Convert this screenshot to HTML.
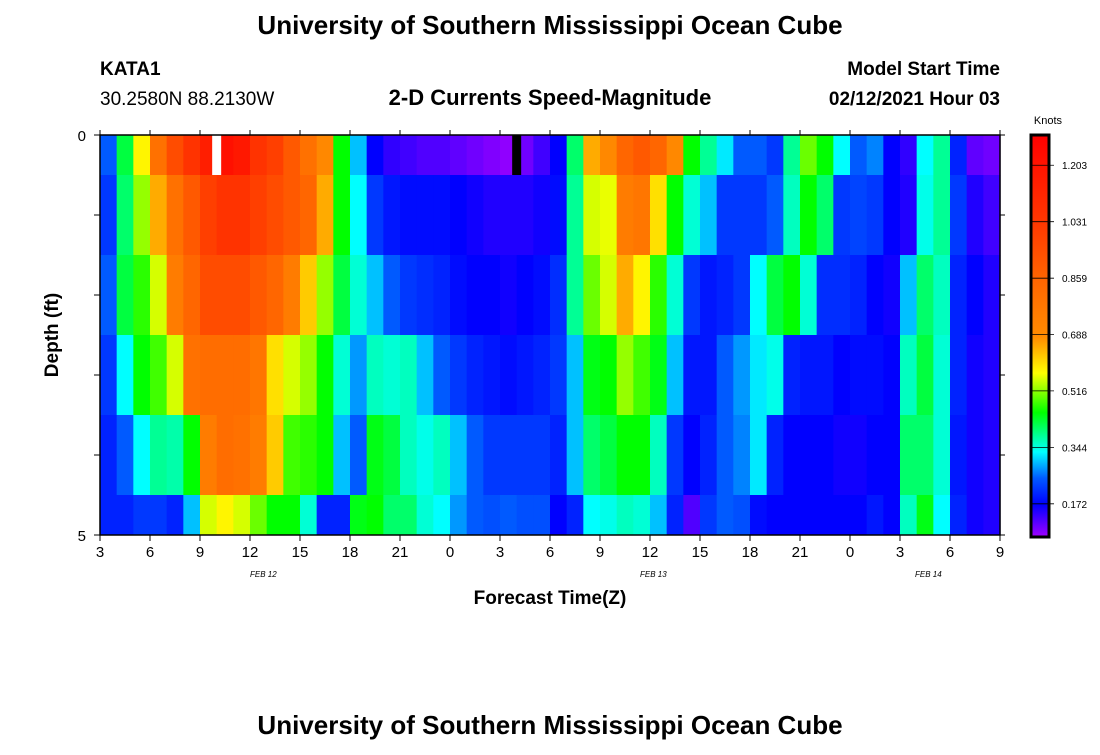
<!DOCTYPE html>
<html><head><meta charset="utf-8"><style>
body{margin:0;background:#fff;}
svg text{font-family:"Liberation Sans",sans-serif;}
</style></head><body>
<svg width="1100" height="750" viewBox="0 0 1100 750" xmlns="http://www.w3.org/2000/svg">
<rect width="1100" height="750" fill="#fff"/>
<text x="550" y="34" text-anchor="middle" font-size="26" font-weight="bold">University of Southern Mississippi Ocean Cube</text>
<text x="100" y="75" font-size="19" font-weight="bold">KATA1</text>
<text x="100" y="105" font-size="19">30.2580N 88.2130W</text>
<text x="550" y="105" text-anchor="middle" font-size="22" font-weight="bold">2-D Currents Speed-Magnitude</text>
<text x="1000" y="75" text-anchor="end" font-size="19" font-weight="bold">Model Start Time</text>
<text x="1000" y="105" text-anchor="end" font-size="19" font-weight="bold">02/12/2021 Hour 03</text>
<g id="cells"></g>
<g id="axes"></g>
<g id="cbar"></g>
<text transform="translate(58,335) rotate(-90)" text-anchor="middle" font-size="19" font-weight="bold">Depth (ft)</text>
<text x="550" y="604" text-anchor="middle" font-size="19" font-weight="bold">Forecast Time(Z)</text>
<text x="550" y="734" text-anchor="middle" font-size="26" font-weight="bold">University of Southern Mississippi Ocean Cube</text>
</svg>
<script>
const hourLabels=["3","6","9","12","15","18","21","0","3","6","9","12","15","18","21","0","3","6","9"];
const dateLabels=["FEB 12","FEB 13","FEB 14"];
const dateHours=[9.8,33.2,49.7];
const depthLabels=["0","5"];
const cbarTicks=[1.203,1.031,0.859,0.688,0.516,0.344,0.172];
const depth0=[0.25,0.42,0.58,0.8,0.95,1.05,1.15,1.22,1.18,1.05,1.0,0.9,0.8,0.7,0.45,0.3,0.17,0.14,0.13,0.12,0.12,0.11,0.1,0.09,0.08,0.1,0.13,0.17,0.4,0.65,0.7,0.85,0.9,0.85,0.7,0.45,0.38,0.32,0.25,0.25,0.22,0.38,0.5,0.45,0.33,0.25,0.27,0.17,0.14,0.33,0.38,0.2,0.11,0.1];
const depth1=[0.22,0.4,0.52,0.65,0.8,0.9,1.0,1.05,1.05,1.0,0.95,0.9,0.85,0.65,0.45,0.33,0.22,0.19,0.18,0.18,0.18,0.17,0.16,0.15,0.15,0.15,0.16,0.18,0.38,0.55,0.56,0.75,0.78,0.6,0.45,0.35,0.3,0.22,0.22,0.22,0.25,0.36,0.45,0.4,0.22,0.23,0.22,0.17,0.15,0.34,0.38,0.22,0.15,0.13];
const depth2=[0.25,0.42,0.47,0.55,0.75,0.85,0.95,0.95,0.95,0.9,0.85,0.75,0.62,0.52,0.42,0.35,0.3,0.25,0.22,0.21,0.2,0.18,0.17,0.17,0.16,0.17,0.18,0.21,0.38,0.5,0.55,0.65,0.58,0.47,0.35,0.22,0.19,0.2,0.22,0.33,0.42,0.45,0.35,0.21,0.21,0.2,0.17,0.16,0.3,0.4,0.36,0.2,0.17,0.15];
const depth3=[0.22,0.33,0.45,0.48,0.55,0.8,0.82,0.82,0.82,0.78,0.6,0.55,0.52,0.45,0.35,0.28,0.36,0.35,0.36,0.3,0.25,0.22,0.2,0.19,0.18,0.19,0.2,0.22,0.3,0.44,0.45,0.52,0.48,0.44,0.3,0.19,0.19,0.25,0.28,0.32,0.34,0.2,0.19,0.19,0.17,0.18,0.18,0.17,0.36,0.42,0.35,0.2,0.16,0.15];
const depth4=[0.2,0.25,0.33,0.38,0.37,0.45,0.75,0.82,0.8,0.75,0.62,0.48,0.47,0.45,0.3,0.25,0.44,0.42,0.36,0.34,0.36,0.3,0.25,0.22,0.22,0.22,0.22,0.2,0.3,0.4,0.42,0.45,0.45,0.36,0.22,0.17,0.2,0.25,0.27,0.32,0.2,0.17,0.17,0.17,0.16,0.16,0.17,0.17,0.4,0.4,0.35,0.19,0.16,0.15];
const depth5=[0.2,0.2,0.22,0.22,0.2,0.3,0.55,0.58,0.55,0.5,0.45,0.45,0.35,0.2,0.2,0.44,0.45,0.4,0.4,0.35,0.33,0.28,0.25,0.24,0.25,0.24,0.24,0.17,0.2,0.33,0.34,0.36,0.35,0.3,0.2,0.12,0.22,0.25,0.24,0.18,0.17,0.17,0.17,0.17,0.17,0.17,0.19,0.17,0.36,0.44,0.33,0.2,0.16,0.15];
const rows=[depth0,depth1,depth2,depth3,depth4,depth5];
const minMarkHour=7, maxMarkHour=25.0;

const NS="http://www.w3.org/2000/svg";
const X0=100,X1=1000,Y0=135,Y1=535,HOURS=54,DEPTH=5;
const xs=h=>X0+(h/HOURS)*(X1-X0);
const ys=d=>Y0+(d/DEPTH)*(Y1-Y0);
const VMIN=0.071,VMAX=1.295,CB0=135,CB1=537;
const cy=v=>CB1-(v-VMIN)/(VMAX-VMIN)*(CB1-CB0);
const stops=[[0.07,[160,0,255]],[0.17,[0,0,255]],[0.25,[0,90,255]],[0.33,[0,255,255]],[0.45,[0,255,0]],[0.57,[255,255,0]],[0.68,[255,140,0]],[0.86,[255,100,0]],[1.03,[255,55,0]],[1.2,[255,20,0]],[1.3,[255,0,0]]];
function col(v){
  if(v<=stops[0][0])return `rgb(${stops[0][1]})`;
  for(let i=1;i<stops.length;i++){if(v<=stops[i][0]){const a=stops[i-1],b=stops[i];const t=(v-a[0])/(b[0]-a[0]);const c=a[1].map((q,k)=>Math.round(q+(b[1][k]-q)*t));return `rgb(${c})`;}}
  return "rgb(255,0,0)";
}
function mk(tag,attrs,parent){const e=document.createElementNS(NS,tag);for(const k in attrs)e.setAttribute(k,attrs[k]);parent.appendChild(e);return e;}
const cells=document.getElementById('cells');
rows.forEach((row,d)=>{
  row.forEach((v,h)=>{
    const xa=xs(h),xb=xs(h+1);
    const ya=ys(Math.max(0,d-0.5)),yb=ys(Math.min(DEPTH,d+0.5));
    const r=mk('rect',{x:xa,y:ya,width:xb-xa+0.6,height:yb-ya+0.3,fill:col(v)},cells);
    
    
  });
});
const wm=mk('rect',{x:xs(minMarkHour)-4.5,y:Y0,width:9,height:ys(0.5)-Y0,fill:'#fff'},cells);


const bm=mk('rect',{x:xs(maxMarkHour)-4.5,y:Y0,width:9,height:ys(0.5)-Y0,fill:'#000'},cells);



const ax=document.getElementById('axes');
const fr=mk('rect',{x:X0,y:Y0,width:X1-X0,height:Y1-Y0,fill:'none',stroke:'#000','stroke-width':1.5},ax);


hourLabels.forEach((l,i)=>{
  const x=xs(i*3);
  mk('line',{x1:x,y1:Y1,x2:x,y2:Y1+6,stroke:'#000'},ax);
  mk('line',{x1:x,y1:Y0,x2:x,y2:Y0-5,stroke:'#000'},ax);
  const t=mk('text',{x:x,y:Y1+22,'text-anchor':'middle','font-size':15},ax);
  t.textContent=l;
  
  
});
dateLabels.forEach((l,i)=>{
  const t=mk('text',{x:xs(dateHours[i]),y:Y1+42,'text-anchor':'middle','font-size':8,'font-style':'italic'},ax);
  t.textContent=l;
  
  
});
for(let d=0;d<=DEPTH;d++){
  mk('line',{x1:X0-6,y1:ys(d),x2:X0,y2:ys(d),stroke:'#000'},ax);
  mk('line',{x1:X1,y1:ys(d),x2:X1+5,y2:ys(d),stroke:'#000'},ax);
}
depthLabels.forEach((l,i)=>{
  const t=mk('text',{x:X0-14,y:ys(i*DEPTH)+6,'text-anchor':'end','font-size':15},ax);
  t.textContent=l;
  
  
});

const cb=document.getElementById('cbar');
const defs=mk('defs',{},cb);
const g=mk('linearGradient',{id:'cg',x1:0,y1:1,x2:0,y2:0},defs);
stops.forEach(s=>{const o=Math.min(1,Math.max(0,(s[0]-VMIN)/(VMAX-VMIN)));mk('stop',{offset:o,'stop-color':`rgb(${s[1]})`},g);});
const cr=mk('rect',{x:1031,y:CB0,width:18,height:CB1-CB0,fill:'url(#cg)',stroke:'#000','stroke-width':3},cb);


cbarTicks.forEach(v=>{
  mk('line',{x1:1031,y1:cy(v),x2:1054,y2:cy(v),stroke:'#000','stroke-width':0.8},cb);
  const t=mk('text',{x:1062,y:cy(v)+4,'font-size':10},cb);
  t.textContent=v.toFixed(3);
  
  
});
const kt=mk('text',{x:1048,y:124,'text-anchor':'middle','font-size':11},cb);
kt.textContent='Knots';


</script>
</body></html>
